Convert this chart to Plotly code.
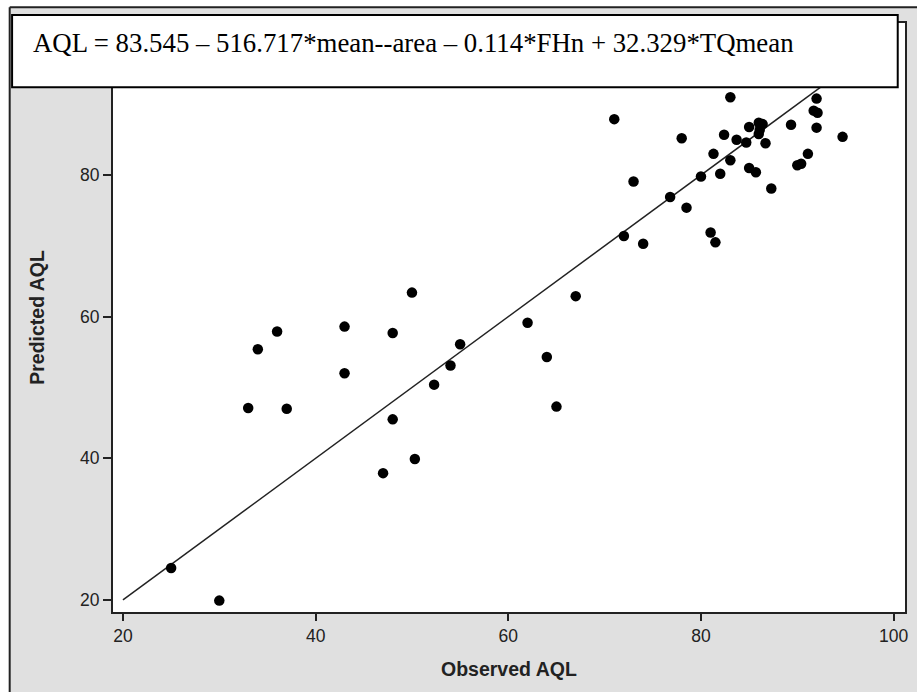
import plotly.graph_objects as go

# ---- data ----
observed = [25.0, 30.0, 33.0, 34.0, 36.0, 37.0, 43.0, 43.0, 47.0, 48.0,
            48.0, 50.0, 50.3, 52.3, 54.0, 55.0, 62.0, 64.0, 65.0, 67.0,
            71.0, 72.0, 73.0, 74.0, 76.8, 78.0, 78.5, 80.0, 81.0, 81.3,
            81.5, 82.0, 82.4, 83.05, 83.05, 83.7, 84.7, 85.0, 85.0, 85.7,
            86.0, 86.4, 86.1, 86.0, 86.7, 87.3, 89.35, 90.0, 90.4, 91.1,
            91.7, 92.1, 92.0, 92.0, 94.7]
predicted = [24.5, 19.9, 47.1, 55.4, 57.9, 47.0, 58.6, 52.0, 37.9, 57.7,
             45.5, 63.4, 39.9, 50.4, 53.1, 56.1, 59.15, 54.3, 47.3, 62.9,
             87.9, 71.4, 79.1, 70.3, 76.9, 85.2, 75.4, 79.8, 71.9, 83.0,
             70.5, 80.2, 85.7, 91.0, 82.1, 85.0, 84.6, 86.8, 81.0, 80.4,
             87.4, 87.2, 86.4, 85.8, 84.5, 78.1, 87.1, 81.4, 81.6, 83.0,
             89.1, 88.8, 90.8, 86.7, 85.4]
fit_x = [20, 100]
fit_y = [20, 100]
x_ticks = [20, 40, 60, 80, 100]
y_ticks = [20, 40, 60, 80]
equation = "AQL = 83.545 \u2013 516.717*mean--area \u2013 0.114*FHn + 32.329*TQmean"
x_title = "Observed AQL"
y_title = "Predicted AQL"

# ---- layout geometry ----
W, H = 917, 692
L, R, T, B = 113, 9, 23, 80
pw = W - L - R
ph = H - T - B


def px(xp):
    return (xp - L) / pw


def py(yp):
    return (H - B - yp) / ph


INK = "#222222"
GRAY = "#e0e0e0"

fig = go.Figure()
fig.add_trace(go.Scatter(x=fit_x, y=fit_y, mode="lines",
                         line=dict(color=INK, width=1.5),
                         hoverinfo="skip", showlegend=False))
fig.add_trace(go.Scatter(x=observed, y=predicted, mode="markers",
                         marker=dict(color="black", size=10.5, line=dict(width=0)),
                         showlegend=False))

shapes = [
    # white margin outside the outer frame
    dict(type="rect", xref="paper", yref="paper", x0=px(-5), x1=px(9.3),
         y0=py(H + 5), y1=py(-5), fillcolor="white", line=dict(width=0), layer="below"),
    dict(type="rect", xref="paper", yref="paper", x0=px(-5), x1=px(W + 5),
         y0=py(7.3), y1=py(-5), fillcolor="white", line=dict(width=0), layer="below"),
    # outer frame lines
    dict(type="line", xref="paper", yref="paper", x0=px(9.3), x1=px(9.3),
         y0=py(7.3), y1=py(H + 5), line=dict(color=INK, width=2)),
    dict(type="line", xref="paper", yref="paper", x0=px(9.3), x1=px(W + 5),
         y0=py(7.3), y1=py(7.3), line=dict(color=INK, width=2)),
    # equation box
    dict(type="rect", xref="paper", yref="paper", x0=px(11.7), x1=px(900.7),
         y0=py(87.3), y1=py(15), fillcolor="white",
         line=dict(color="black", width=2), layer="above"),
]

annotations = [
    dict(text=equation, xref="paper", yref="paper", x=px(31), y=py(43),
         xanchor="left", yanchor="middle", showarrow=False,
         font=dict(family="Liberation Serif", size=26.8, color="black")),
    dict(text="<b>" + x_title + "</b>", xref="paper", yref="paper",
         x=px(510.5), y=py(669), xanchor="center", yanchor="middle", showarrow=False,
         font=dict(family="Liberation Sans", size=19.5, color=INK)),
    dict(text="<b>" + y_title + "</b>", xref="paper", yref="paper",
         x=px(36), y=py(317.5), xanchor="center", yanchor="middle", showarrow=False,
         textangle=-90,
         font=dict(family="Liberation Sans", size=19.5, color=INK)),
]

fig.update_layout(
    width=W, height=H,
    margin=dict(l=L, r=R, t=T, b=B, pad=0),
    paper_bgcolor=GRAY, plot_bgcolor="white",
    showlegend=False,
    shapes=shapes,
    annotations=annotations,
    xaxis=dict(range=[18.966, 101.18], tickvals=x_ticks, ticks="outside",
               ticklen=7, tickwidth=2, tickcolor=INK,
               showline=True, mirror=True, linecolor=INK, linewidth=2,
               showgrid=False, zeroline=False,
               tickfont=dict(family="Liberation Sans", size=17.5, color=INK)),
    yaxis=dict(range=[18.29, 101.48], tickvals=y_ticks, ticks="outside",
               ticklen=8, tickwidth=2, tickcolor=INK,
               showline=True, mirror=True, linecolor=INK, linewidth=2,
               showgrid=False, zeroline=False,
               tickfont=dict(family="Liberation Sans", size=17.5, color=INK)),
)

fig.write_html("out.html",
               config={"displayModeBar": False},
               post_script="document.body.style.margin='0';document.body.style.overflow='hidden';")
